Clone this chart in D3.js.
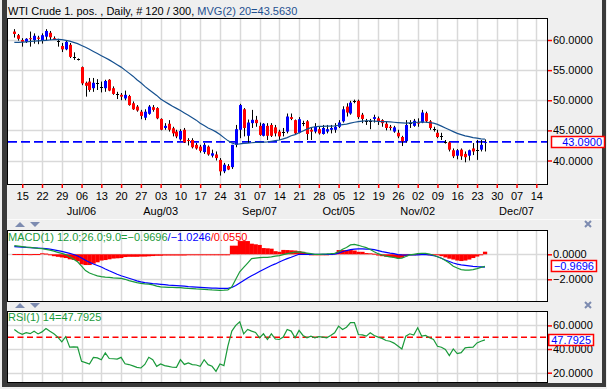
<!DOCTYPE html>
<html lang="en">
<head>
<meta charset="utf-8">
<title>WTI Crude 1. pos. Daily</title>
<script src="https://d3js.org/d3.v7.min.js"></script>
<style>
  body { margin: 0; background: #efefef; }
  svg text { font: 11px "Liberation Sans", Arial, sans-serif; }
</style>
</head>
<body>
<svg width="607" height="389"></svg>
<script>
// ---------- data ----------
const dayLabels = ["15","22","29","06","13","20","27","03","10","17","24","31","07","14","21","28",
                   "05","12","19","26","02","09","16","23","30","07","14"];
const firstMonday = 2;          // bar index of the first labelled Monday
const monthLabels = ["Jul/06","Aug/03","Sep/07","Oct/05","Nov/02","Dec/07"];
const monthBars   = [17, 37, 62, 82, 102, 127];

const opens = [61.4,60.8,60.0,59.7,60.3,60.0,60.4,60.0,60.55,61.2,
  60.3,59.9,59.0,58.45,59.2,57.1,56.8,55.5,52.9,53.1,
  52.0,52.85,52.2,52.0,53.4,52.0,51.05,50.9,50.3,50.7,
  49.5,48.95,48.1,47.1,47.75,48.85,48.7,46.9,45.4,46.1,
  45.35,44.8,43.5,45.1,43.4,43.4,42.6,42.3,41.4,42.3,
  40.8,41.0,40.1,38.2,39.1,38.9,42.6,45.1,48.5,44.1,
  46.2,46.75,45.75,44.1,45.75,45.9,45.5,44.8,44.8,44.8,
  47.2,46.7,44.6,46.2,46.5,45.1,44.8,45.2,44.4,44.8,
  45.1,45.1,45.6,46.5,48.95,47.8,49.8,49.9,47.6,46.5,
  46.5,46.9,47.0,46.7,46.1,45.6,44.8,44.6,43.9,43.2,
  46.3,45.75,46.3,46.3,47.85,46.5,45.2,44.6,44.1,43.15,
  43.0,41.7,40.8,41.8,41.1,40.8,42.0,41.8,41.8,42.9];
const highs = [61.8,61.0,60.3,60.3,61.4,61.1,60.7,61.1,61.8,61.5,
  60.6,60.2,59.5,59.9,59.5,57.95,56.95,55.6,53.1,53.7,
  53.7,53.5,53.1,53.4,53.5,52.3,51.4,51.2,51.6,50.9,
  49.8,49.2,48.4,48.5,49.2,49.2,48.85,47.0,46.2,46.7,
  45.6,45.1,45.2,45.4,43.7,43.7,42.9,42.6,42.9,42.5,
  41.8,41.5,40.4,39.6,39.4,42.6,45.9,49.4,48.7,46.8,
  48.4,47.4,46.3,46.2,46.2,46.2,45.9,45.1,45.4,47.8,
  47.8,46.8,47.2,46.6,46.7,45.4,46.2,45.6,45.9,45.9,
  45.9,46.2,46.7,49.0,49.5,49.9,50.1,50.1,47.9,46.9,
  46.9,47.6,47.3,46.85,46.5,45.9,45.75,45.1,44.1,46.7,
  46.7,46.9,47.0,48.4,48.1,46.7,45.6,45.1,44.6,43.4,
  43.2,42.0,41.9,42.0,41.5,41.8,42.9,43.4,43.4,43.5];
const lows = [60.4,59.9,58.9,59.5,58.9,59.4,59.3,59.4,60.0,60.0,
  60.0,58.9,58.0,58.3,57.0,56.7,56.6,52.5,50.6,51.4,
  51.4,51.7,51.3,51.4,51.5,50.9,50.2,50.0,50.0,49.1,
  48.4,48.1,46.85,46.7,47.6,48.1,46.85,45.0,45.1,44.8,
  44.0,43.7,43.3,42.9,42.5,42.0,41.8,41.3,41.1,40.8,
  40.5,40.0,37.5,37.9,38.4,38.6,42.2,43.7,44.0,42.9,
  45.4,45.6,44.1,44.0,43.4,43.9,44.0,43.4,44.0,44.5,
  46.7,44.4,44.5,45.7,43.4,43.4,44.5,44.3,44.3,44.5,
  44.5,44.6,45.4,46.3,47.3,47.6,49.5,46.9,46.2,45.9,
  45.2,46.3,45.9,45.6,45.0,45.0,44.6,43.7,42.4,43.0,
  45.4,45.6,45.6,46.2,46.3,45.1,44.8,43.7,43.4,42.8,
  41.5,40.4,40.2,40.1,39.7,40.0,40.9,40.1,41.5,41.5];
const closes = [61.0,60.2,59.7,60.2,60.2,60.7,60.2,60.8,61.5,60.45,
  60.1,59.9,58.45,59.7,57.2,57.1,56.8,52.8,52.4,51.7,
  52.9,52.85,52.2,53.2,51.6,51.05,51.05,50.6,50.9,49.2,
  48.5,48.3,47.4,48.1,48.95,48.4,47.0,45.1,45.75,45.1,
  44.5,44.0,44.9,43.0,43.25,42.2,42.0,41.6,42.6,41.0,
  41.2,40.4,38.2,39.3,38.5,42.6,45.2,49.2,45.4,46.3,
  46.75,46.2,44.25,46.1,44.1,44.1,44.5,44.0,44.8,47.3,
  46.9,44.5,46.85,46.2,44.4,44.8,45.6,44.5,45.4,45.2,
  45.4,45.6,46.3,48.5,47.96,49.6,49.8,47.2,46.9,46.5,
  46.5,47.2,46.5,46.2,45.4,45.4,45.5,44.0,43.2,45.9,
  46.3,46.6,46.2,47.96,46.5,45.4,45.2,43.9,44.1,43.15,
  41.8,40.7,41.7,40.7,40.55,41.7,41.5,41.8,42.6,43.09];
// 20-day moving average as drawn
const ma20 = [59.6,59.6,59.65,59.7,59.75,59.8,59.85,59.9,59.95,60.0,
  60.05,60.1,60.05,59.95,59.8,59.6,59.4,59.1,58.8,58.45,
  58.1,57.75,57.4,57.05,56.7,56.3,55.9,55.5,55.0,54.5,
  54.0,53.4,52.9,52.3,51.8,51.3,50.8,50.2,49.8,49.4,
  49.0,48.65,48.3,47.9,47.5,47.1,46.7,46.2,45.8,45.4,
  45.1,44.75,44.3,43.8,43.3,42.9,42.7,42.75,42.85,42.9,
  42.95,43.0,43.0,43.05,43.1,43.2,43.3,43.4,43.6,43.8,
  44.1,44.3,44.6,44.9,45.2,45.45,45.6,45.65,45.65,45.7,
  45.7,45.75,45.85,45.95,46.05,46.2,46.35,46.45,46.55,46.6,
  46.6,46.55,46.5,46.45,46.45,46.4,46.35,46.3,46.25,46.2,
  46.25,46.3,46.35,46.4,46.35,46.3,46.2,46.0,45.7,45.4,
  45.1,44.8,44.5,44.3,44.1,43.95,43.8,43.7,43.6,43.563];
const macdLine = [0.69,0.66,0.62,0.58,0.55,0.52,0.48,0.45,0.40,0.33,
  0.25,0.16,0.07,-0.02,-0.2,-0.4,-0.6,-0.95,-1.3,-1.5,
  -1.62,-1.72,-1.78,-1.82,-1.85,-1.88,-1.9,-1.93,-2.0,-2.1,
  -2.18,-2.26,-2.32,-2.36,-2.38,-2.45,-2.55,-2.6,-2.62,-2.64,
  -2.65,-2.66,-2.67,-2.7,-2.73,-2.75,-2.77,-2.78,-2.8,-2.83,
  -2.85,-2.86,-2.88,-2.87,-2.85,-2.6,-2.0,-1.4,-1.05,-0.7,
  -0.35,-0.3,-0.27,-0.25,-0.24,-0.2,-0.15,-0.1,-0.02,0.05,
  0.12,0.18,0.2,0.15,0.1,0.05,0.0,0.0,0.02,0.03,
  0.05,0.08,0.2,0.4,0.55,0.75,0.8,0.72,0.62,0.53,
  0.38,0.2,0.05,-0.06,-0.15,-0.2,-0.25,-0.32,-0.3,-0.18,
  -0.05,0.0,0.05,0.08,0.08,0.02,-0.08,-0.2,-0.32,-0.5,
  -0.7,-0.95,-1.1,-1.22,-1.26,-1.26,-1.22,-1.15,-1.05,-0.9696];
const signalLine = [0.61,0.6,0.58,0.56,0.54,0.52,0.5,0.48,0.45,0.41,
  0.36,0.3,0.23,0.16,0.08,-0.02,-0.14,-0.3,-0.48,-0.63,
  -0.78,-0.9,-1.02,-1.18,-1.32,-1.45,-1.6,-1.72,-1.82,-1.92,
  -2.02,-2.12,-2.2,-2.26,-2.3,-2.34,-2.37,-2.4,-2.43,-2.46,
  -2.48,-2.5,-2.52,-2.55,-2.58,-2.6,-2.62,-2.64,-2.66,-2.68,
  -2.7,-2.71,-2.72,-2.73,-2.72,-2.65,-2.5,-2.3,-2.1,-1.9,
  -1.72,-1.55,-1.38,-1.22,-1.06,-0.9,-0.77,-0.62,-0.48,-0.35,
  -0.24,-0.12,0.0,0.0,0.0,0.0,0.0,0.0,0.0,0.0,
  0.0,0.02,0.1,0.2,0.3,0.38,0.42,0.44,0.43,0.42,
  0.42,0.38,0.3,0.22,0.16,0.1,0.05,-0.02,-0.05,-0.06,
  -0.05,-0.05,-0.04,-0.03,-0.03,-0.05,-0.1,-0.2,-0.32,-0.46,
  -0.58,-0.7,-0.78,-0.84,-0.88,-0.92,-0.96,-0.99,-1.0,-1.0246];
const histBars = [0.02,0.02,0.02,0.02,0.01,0.02,0.02,0.08,0.06,-0.02,
  -0.15,-0.2,-0.25,-0.3,-0.4,-0.45,-0.55,-0.8,-0.86,-0.86,
  -0.75,-0.64,-0.5,-0.46,-0.4,-0.34,-0.32,-0.3,-0.22,-0.2,
  -0.2,-0.2,-0.18,-0.18,-0.16,-0.14,-0.12,-0.12,-0.1,-0.1,
  -0.1,-0.1,-0.1,-0.1,-0.08,-0.08,-0.08,-0.08,-0.06,-0.06,
  -0.05,-0.05,-0.06,-0.05,-0.04,0.69,0.69,1.06,1.06,1.06,
  0.85,0.8,0.75,0.5,0.48,0.45,0.25,0.2,0.35,0.34,
  0.32,0.3,0.25,0.2,0.1,0.0,0.0,0.0,0.0,0.0,
  0.02,0.1,0.34,0.34,0.34,0.34,0.3,0.2,0.2,0.1,
  0.08,0.05,-0.1,-0.15,-0.19,-0.22,-0.25,-0.3,-0.28,-0.15,
  -0.05,0.0,0.02,0.03,0.02,0.0,-0.02,-0.05,-0.15,-0.25,
  -0.35,-0.42,-0.5,-0.54,-0.5,-0.42,-0.3,-0.18,-0.08,0.21];
const histLast = 0.0550;
const rsi14 = [56.6,54,52.5,53.8,53,55,52.8,54.5,57.4,55,
  52.9,50.1,46.1,50.5,41.6,41.8,41.6,29.6,28.5,27.4,
  33,32.5,31,36.7,32,31.8,31.5,33,27.5,26.9,
  25.8,24.5,24,27,33,31,25.4,27.4,26,25.4,
  24.6,24.5,31,27,28.2,26.8,26.5,25.4,31,26.8,
  25.4,21.1,27.4,26,42.4,55.2,60,63.1,52.9,56.6,
  55.2,54,49.5,52.9,48.1,52.9,48.5,48.1,50.1,56.6,
  55.2,49.5,55.8,51.5,49.5,50.9,49.5,50.5,50.1,49.5,
  51.5,53.8,59.4,56.6,58.5,62.3,62.3,52.3,52,50.9,
  53.8,51.5,50.1,49,47.2,46.6,45,42.5,40.1,50.9,
  52.9,51.8,58,51,51.5,49.5,48.1,42.4,41.5,39.6,
  34.5,40.1,36.2,37,41,41.5,41.6,45.2,46.6,47.7925];
const rsiLevel = 50;
const priceTicks = [40, 45, 50, 55, 60];
const macdTicks = [0, -2];
const rsiTicks = [20, 40, 60];

// ---------- layout ----------
const svg = d3.select("svg");
const L = 8, R = 547;
const mainP = {top: 18, bottom: 184};
const macdP = {top: 230, bottom: 301};
const rsiP  = {top: 311, bottom: 382};
const green = "#1a9a3a", blue = "#0000ff", red = "#ff0000", gridC = "#d9d9d9";

const x = d3.scaleLinear().domain([-1.6, 134.7]).range([L, R]);
const yMain = d3.scaleLinear().domain([40, 60]).range([160.5, 40]);
const yMacd = d3.scaleLinear().domain([-2, 0]).range([279.3, 254.3]);
const yRsi  = d3.scaleLinear().domain([20, 60]).range([372.7, 325.4]);
const step = x(1) - x(0);
const tickBars = dayLabels.map((d, k) => firstMonday + 5 * k);

svg.append("rect").attr("width", 607).attr("height", 389).attr("fill", "#efefef");

// outer dark frame
svg.append("rect").attr("x", 2).attr("y", 0).attr("width", 5).attr("height", 387).attr("fill", "#3a3a3a");
svg.append("rect").attr("x", 602).attr("y", 0).attr("width", 4).attr("height", 387).attr("fill", "#3a3a3a");
svg.append("rect").attr("x", 2).attr("y", 383).attr("width", 604).attr("height", 4).attr("fill", "#3a3a3a");
svg.append("line").attr("x1", 7).attr("x2", 602).attr("y1", 219.5).attr("y2", 219.5).attr("stroke", "#fbfbfb");

function panel(p, yScale, ticks, fmt, id) {
  svg.append("clipPath").attr("id", id).append("rect")
    .attr("x", L).attr("y", p.top).attr("width", R - L).attr("height", p.bottom - p.top);
  svg.append("rect").attr("x", L - 0.5).attr("y", p.top + 0.5)
    .attr("width", R - L + 1).attr("height", p.bottom - p.top)
    .attr("fill", "#fff");
  const g = svg.append("g").attr("clip-path", `url(#${id})`);
  g.selectAll("line.vg").data(tickBars).join("line")
    .attr("x1", d => Math.round(x(d)) + 0.5).attr("x2", d => Math.round(x(d)) + 0.5)
    .attr("y1", p.top).attr("y2", p.bottom)
    .attr("stroke", gridC).attr("stroke-width", 1.5);
  g.selectAll("line.hg").data(ticks).join("line")
    .attr("x1", L).attr("x2", R)
    .attr("y1", d => Math.round(yScale(d)) + 0.5).attr("y2", d => Math.round(yScale(d)) + 0.5)
    .attr("stroke", gridC).attr("stroke-width", 1.5);
  // right axis
  const ax = svg.append("g").attr("transform", `translate(${R},0)`)
    .call(d3.axisRight(yScale).tickValues(ticks).tickFormat(fmt).tickSizeInner(5).tickSizeOuter(0).tickPadding(1));
  ax.select(".domain").remove();
  ax.selectAll(".tick line").attr("stroke", red).attr("stroke-width", 1.5);
  ax.selectAll(".tick text").attr("fill", "#000").style("font", '11px "Liberation Sans", Arial, sans-serif');
  return g;
}

function border(p) {
  svg.append("rect").attr("x", L - 0.5).attr("y", p.top + 0.5)
    .attr("width", R - L + 1).attr("height", p.bottom - p.top)
    .attr("fill", "none").attr("stroke", "#000");
}

function valueBox(v, yScale, boxL, boxR) {
  const yy = yScale(v);
  const t = svg.append("text").attr("x", boxR - 3).attr("y", yy).attr("dy", "0.36em")
    .attr("text-anchor", "end").attr("fill", blue).text(d3.format(".4f")(v));
  const w = t.node().getComputedTextLength();
  const left = boxL != null ? boxL : boxR - w - 6;
  svg.insert("rect", () => t.node()).attr("x", left + 0.5).attr("y", Math.round(yy - 6) + 0.5)
    .attr("width", boxR - left - 1).attr("height", 11)
    .attr("fill", "#fff").attr("stroke", red).attr("stroke-width", 1.5);
}

const fmt4 = d3.format(".4f");

// ---------- main price panel ----------
const gMain = panel(mainP, yMain, priceTicks, fmt4, "clipMain");
const lastClose = closes[closes.length - 1];
gMain.append("line").attr("x1", L).attr("x2", R)
  .attr("y1", yMain(lastClose)).attr("y2", yMain(lastClose))
  .attr("stroke", blue).attr("stroke-width", 1.6).attr("stroke-dasharray", "9,4");

const bars = closes.map((c, i) => ({i, o: opens[i], h: highs[i], l: lows[i], c}));
const cg = gMain.selectAll("g.c").data(bars).join("g");
cg.append("line")
  .attr("x1", d => Math.round(x(d.i)) + 0.5).attr("x2", d => Math.round(x(d.i)) + 0.5)
  .attr("y1", d => yMain(d.h)).attr("y2", d => yMain(d.l))
  .attr("stroke", "#000").attr("stroke-width", 1);
cg.append("rect")
  .attr("x", d => Math.round(x(d.i)) - 1)
  .attr("width", 3)
  .attr("y", d => Math.abs(d.o - d.c) < 0.06 ? Math.round(yMain(d.c)) : yMain(Math.max(d.o, d.c)))
  .attr("height", d => Math.abs(d.o - d.c) < 0.06 ? 1 : Math.max(1, yMain(Math.min(d.o, d.c)) - yMain(Math.max(d.o, d.c))))
  .attr("fill", d => Math.abs(d.o - d.c) < 0.06 ? "#000" : (d.c > d.o ? blue : red));

gMain.append("path").datum(ma20)
  .attr("d", d3.line().x((d, i) => x(i)).y(d => yMain(d)))
  .attr("fill", "none").attr("stroke", "#15508f").attr("stroke-width", 1.2);
border(mainP);
valueBox(lastClose, yMain, 551, 605);

// x axis
const xa = svg.append("g").attr("transform", `translate(0,${mainP.bottom})`)
  .call(d3.axisBottom(x).tickValues(tickBars).tickFormat((d, k) => dayLabels[k])
    .tickSizeInner(4).tickSizeOuter(0).tickPadding(4));
xa.select(".domain").remove();
xa.selectAll(".tick line").attr("stroke", red).attr("stroke-width", 1.5);
xa.selectAll(".tick text").attr("fill", "#000").style("font", '11px "Liberation Sans", Arial, sans-serif');
svg.selectAll("text.month").data(monthLabels).join("text")
  .attr("x", (d, k) => x(monthBars[k])).attr("y", 215)
  .attr("text-anchor", "middle").attr("fill", "#000").text(d => d);

// ---------- MACD panel ----------
const gMacd = panel(macdP, yMacd, macdTicks, fmt4, "clipMacd");
gMacd.selectAll("rect.h").data(histBars).join("rect")
  .attr("x", (d, i) => x(i) - step / 2).attr("width", step + 0.3)
  .attr("y", d => yMacd(Math.max(0, d))).attr("height", d => Math.max(1, Math.abs(yMacd(d) - yMacd(0))))
  .attr("fill", red);
gMacd.append("path").datum(signalLine)
  .attr("d", d3.line().x((d, i) => x(i)).y(d => yMacd(d)))
  .attr("fill", "none").attr("stroke", blue).attr("stroke-width", 1.2);
gMacd.append("path").datum(macdLine)
  .attr("d", d3.line().x((d, i) => x(i)).y(d => yMacd(d)))
  .attr("fill", "none").attr("stroke", green).attr("stroke-width", 1.2);
border(macdP);
valueBox(macdLine[macdLine.length - 1], yMacd, null, 597);
const mt = svg.append("text").attr("x", 8).attr("y", 241);
mt.append("tspan").attr("fill", green)
  .text("MACD(1) 12.0;26.0;9.0=" + fmt4(macdLine[macdLine.length - 1]));
mt.append("tspan").attr("fill", blue).text("/" + fmt4(signalLine[signalLine.length - 1]));
mt.append("tspan").attr("fill", red).text("/" + fmt4(histLast));

// ---------- RSI panel ----------
const gRsi = panel(rsiP, yRsi, rsiTicks, fmt4, "clipRsi");
gRsi.append("line").attr("x1", L).attr("x2", R)
  .attr("y1", yRsi(rsiLevel)).attr("y2", yRsi(rsiLevel))
  .attr("stroke", red).attr("stroke-width", 1.6).attr("stroke-dasharray", "6,3.5");
gRsi.append("path").datum(rsi14)
  .attr("d", d3.line().x((d, i) => x(i)).y(d => yRsi(d)))
  .attr("fill", "none").attr("stroke", green).attr("stroke-width", 1.2);
border(rsiP);
valueBox(rsi14[rsi14.length - 1], yRsi, null, 594);
svg.append("text").attr("x", 8).attr("y", 321).attr("fill", green)
  .text("RSI(1) 14=" + fmt4(rsi14[rsi14.length - 1]));

// ---------- title ----------
const tt = svg.append("text").attr("x", 8).attr("y", 15);
tt.append("tspan").attr("fill", "#000").text(`WTI Crude 1. pos. , Daily, # ${closes.length} / 300, `);
tt.append("tspan").attr("fill", "#1f4f8f").text("MVG(2) 20=" + fmt4(ma20[ma20.length - 1]));

// ---------- panel controls (small arrows and close marks) ----------
const iconC = "#7d8bb0";
[222, 303].forEach(yy => {
  svg.append("path").attr("d", `M15,${yy + 5}L20,${yy}L25,${yy + 5}Z`).attr("fill", iconC);
  svg.append("path").attr("d", `M30,${yy}L40,${yy}L35,${yy + 5}Z`).attr("fill", iconC);
});
[221, 302].forEach(yy => {
  svg.append("path").attr("d", `M585,${yy}L591,${yy + 6}M591,${yy}L585,${yy + 6}`)
    .attr("stroke", iconC).attr("stroke-width", 2);
});
</script>
</body>
</html>
